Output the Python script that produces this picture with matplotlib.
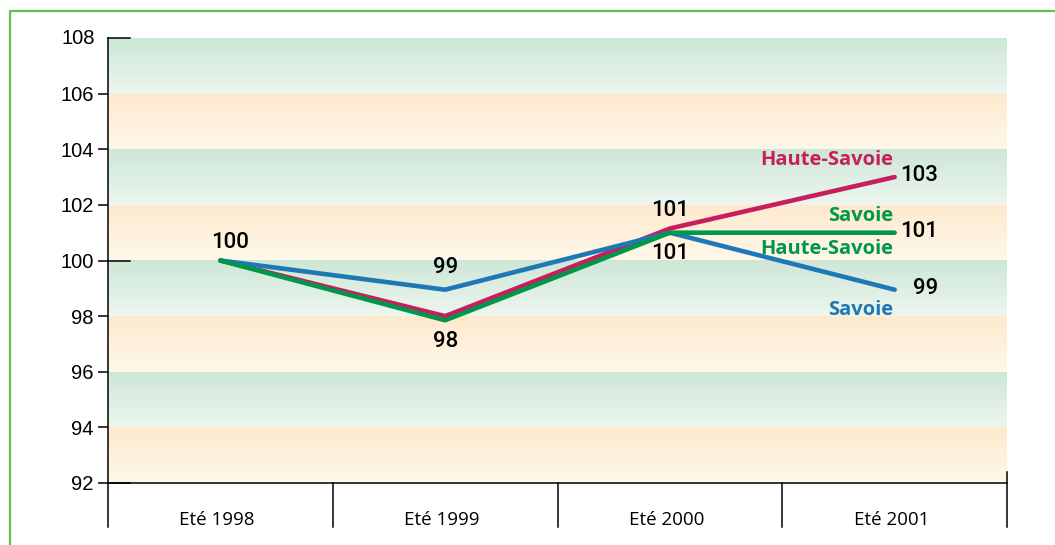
# Index d'évolution - étés 1998 à 2001 (Savoie / Haute-Savoie)
import numpy as np
import matplotlib
matplotlib.use('Agg')
import matplotlib.pyplot as plt
import matplotlib.transforms as mtransforms
from matplotlib.lines import Line2D

# --- data ---
categories = ['Eté 1998', 'Eté 1999', 'Eté 2000', 'Eté 2001']
haute_savoie_a = [100, 98, 101.15, 103]     # magenta
savoie_b = [100, 97.85, 101, 101]           # green
savoie_a = [100, 98.95, 101, 98.95]         # blue

y_ticks = [92, 94, 96, 98, 100, 102, 104, 106, 108]
inner_ticks = [92, 100, 108]

MAGENTA = '#C81E5E'
GREEN = '#00974A'
BLUE = '#1F78B6'

fig = plt.figure(figsize=(10.55, 5.45), dpi=100)
ax = fig.add_axes([108 / 1055, 1 - 483 / 545, 899 / 1055, 445 / 545])
x = np.arange(len(categories))

# background bands with vertical gradient
green_top, green_bot = np.array([205, 231, 214]) / 255, np.array([237, 246, 239]) / 255
orange_top, orange_bot = np.array([254, 233, 205]) / 255, np.array([255, 248, 234]) / 255
t = np.linspace(0, 1, 64)[:, None, None]
for k in range(8):
    y0 = 92 + 2 * k
    top, bot = (green_top, green_bot) if k % 2 else (orange_top, orange_bot)
    grad = bot + (top - bot) * t
    ax.imshow(grad, extent=[-0.5, 3.5, y0, y0 + 2], origin='lower',
              aspect='auto', zorder=0, interpolation='bilinear')

# lines
lw = 3.3
ax.plot(x, haute_savoie_a, color=MAGENTA, lw=lw, solid_capstyle='round', zorder=3)
ax.plot(x, savoie_a, color=BLUE, lw=lw, solid_capstyle='round', zorder=4)
ax.plot(x, savoie_b, color=GREEN, lw=lw, solid_capstyle='round', zorder=5)

ax.set_xlim(-0.5, 3.5)
ax.set_ylim(92, 108)

# value labels
num_font = dict(family=['Roboto', 'Liberation Sans'], fontweight='medium',
                fontsize=16, color='black', zorder=6)
def val(xi, yi, s, dx, dy, ha='center'):
    ax.annotate(s, (xi, yi), xytext=(dx, dy), textcoords='offset pixels',
                ha=ha, va='center', **num_font)

val(0, haute_savoie_a[0], '100', 10, 18)
val(1, savoie_a[1], '99', 0, 22)
val(1, savoie_b[1], '98', 0, -21)
val(2, haute_savoie_a[2], '101', 0, 18)
val(2, savoie_b[2], '101', 0, -21)
val(3, haute_savoie_a[3], '103', 5, 2, ha='left')
val(3, savoie_b[3], '101', 6, 1, ha='left')
val(3, savoie_a[3], '99', 18, 1, ha='left')

# series labels
lab_font = dict(family=['Open Sans', 'DejaVu Sans'], fontsize=14.5, fontweight='bold',
                ha='right', va='center', zorder=6)
def lab(yi, s, c, dy):
    ax.annotate(s, (3, yi), xytext=(-1, dy), textcoords='offset pixels', color=c, **lab_font)

lab(haute_savoie_a[3], 'Haute-Savoie', MAGENTA, 17)
lab(savoie_b[3], 'Savoie', GREEN, 17)
lab(savoie_b[3], 'Haute-Savoie', GREEN, -16)
lab(savoie_a[3], 'Savoie', BLUE, -20)

# axes styling
for s in ['top', 'right']:
    ax.spines[s].set_visible(False)
ax.spines['left'].set_linewidth(1.1)
ax.spines['bottom'].set_linewidth(1.1)
ax.set_xticks([])
ax.set_yticks(y_ticks[:-1])
ax.set_yticklabels([str(v) for v in y_ticks[:-1]])
ax.tick_params(axis='y', direction='out', length=7.2, width=1.1, pad=3,
               labelsize=14.5)
for lbl in ax.get_yticklabels():
    lbl.set_family('Liberation Sans')
# 108 label without outer tick
trans_y = mtransforms.blended_transform_factory(ax.transAxes, ax.transData)
ax.text(-13 / 899, 108, str(y_ticks[-1]), transform=trans_y,
        ha='right', va='center', fontsize=14.5, family='Liberation Sans', clip_on=False)
# inner ticks
for v in inner_ticks:
    ax.plot([0, 22 / 899], [v, v], color='black', lw=1.1, transform=trans_y, clip_on=False, zorder=7)

# category cells below the axis
trans_x = mtransforms.blended_transform_factory(ax.transData, ax.transAxes)
cell_bot = -44 / 445
for xb in [-0.5, 0.5, 1.5, 2.5]:
    ax.plot([xb, xb], [0, cell_bot], color='black', lw=1.1, transform=trans_x, clip_on=False)
ax.plot([3.5, 3.5], [11 / 445, cell_bot], color='black', lw=1.1, transform=trans_x, clip_on=False)
for xi, c in zip(x, categories):
    ax.text(xi - 0.015, -37 / 445, c, transform=trans_x, ha='center', va='center',
            fontsize=13.5, family=['Open Sans', 'DejaVu Sans'], clip_on=False)

# green frame
bx, by = 10 / 1055, 1 - 11 / 545
fig.add_artist(Line2D([bx, bx, 1.0], [0, by, by], color='#5CC24C', lw=1.6,
                      transform=fig.transFigure))

fig.savefig('out.png', dpi=100)
